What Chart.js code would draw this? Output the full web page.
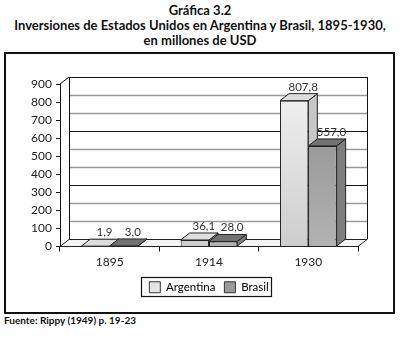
<!DOCTYPE html>
<html lang="es">
<head>
  <meta charset="UTF-8" />
  <title>Gráfica 3.2</title>
  <script src="https://cdn.jsdelivr.net/npm/chart.js@4.4.1/dist/chart.umd.min.js"></script>
  <style>
    body { margin: 0; background: #fff; font-family: 'Lato', sans-serif; }
    #wrap { position: relative; width: 400px; height: 338px; overflow: hidden; }
    #titulo {
      position: absolute; left: 0; top: 3px; width: 400px;
      text-align: center; font-weight: bold; font-size: 13px; line-height: 15px; color: #111;
    }
    #marco {
      position: absolute; left: 4px; top: 52px; width: 387px; height: 258px;
      border: 2px solid #111;
    }
    #fuente {
      position: absolute; left: 4px; top: 314px; font-weight: bold; font-size: 10px; color: #111;
    }
    canvas { position: absolute; left: 0; top: 0; }
  </style>
</head>
<body>
<div id="wrap">
  <div id="titulo">Gráfica 3.2<br>Inversiones de Estados Unidos en Argentina y Brasil, 1895-1930,<br>en millones de USD</div>
  <div id="marco"></div>
  <div id="fuente">Fuente: Rippy (1949) p. 19-23</div>
  <canvas id="grafica" width="400" height="338"></canvas>
</div>

<script>
  // datos de la gráfica
  const anios = ['1895', '1914', '1930'];
  const argentina = [1.9, 36.1, 807.8];
  const brasil = [3.0, 28.0, 557.0];
  const ejeY = [0, 100, 200, 300, 400, 500, 600, 700, 800, 900];

  // profundidad del efecto 3D
  const DX = 9, DY = 7;

  // colores de cada serie: frente (degradado), tapa, lado
  const estilos = [
    { top: '#dedede', lado: '#c6c6c6', g0: '#f2f2f2', g1: '#cdcdcd', leyenda: '#e4e4e4' },
    { top: '#727272', lado: '#7e7e7e', g0: '#8c8c8c', g1: '#b2b2b2', leyenda: '#9a9a9a' }
  ];

  function degradado(ctx, i) {
    const chart = ctx.chart;
    const a = chart.chartArea;
    if (!a) return estilos[i].g0;
    const g = chart.ctx.createLinearGradient(0, a.top, 0, a.bottom);
    g.addColorStop(0, estilos[i].g0);
    g.addColorStop(1, estilos[i].g1);
    return g;
  }

  function poly(c, pts, fill, stroke) {
    c.beginPath();
    c.moveTo(pts[0][0], pts[0][1]);
    for (let k = 1; k < pts.length; k++) c.lineTo(pts[k][0], pts[k][1]);
    c.closePath();
    if (fill) { c.fillStyle = fill; c.fill(); }
    if (stroke) { c.strokeStyle = stroke; c.lineWidth = 1; c.stroke(); }
  }

  // pared del fondo, piso y caras 3D de las barras
  const efecto3D = {
    id: 'efecto3D',
    beforeDatasetsDraw(chart) {
      const c = chart.ctx;
      const a = chart.chartArea;
      const y = chart.scales.y;
      c.save();
      // líneas de la pared del fondo
      ejeY.forEach(v => {
        if (v === 0) return;
        const py = Math.round(y.getPixelForValue(v)) - DY + 0.5;
        c.beginPath();
        c.moveTo(a.left + DX, py);
        c.lineTo(a.right + DX, py);
        c.strokeStyle = (v % 300 === 0) ? '#111' : '#9a9a9a';
        c.lineWidth = (v % 300 === 0) ? 1 : 1.6;
        c.stroke();
      });
      // bordes de la pared
      c.strokeStyle = '#111';
      c.lineWidth = 1;
      c.beginPath();
      c.moveTo(a.left + DX + 0.5, a.bottom - DY);
      c.lineTo(a.left + DX + 0.5, a.top - DY);
      c.moveTo(a.left, a.top);
      c.lineTo(a.left + DX, a.top - DY);
      c.moveTo(a.right + DX + 0.5, a.top - DY);
      c.lineTo(a.right + DX + 0.5, a.bottom - DY);
      c.stroke();
      // piso
      poly(c, [[a.left, a.bottom], [a.right, a.bottom], [a.right + DX, a.bottom - DY], [a.left + DX, a.bottom - DY]], '#f4f4f4', '#222');

      // tapas y lados de las barras
      chart.data.datasets.forEach((ds, i) => {
        const meta = chart.getDatasetMeta(i);
        meta.data.forEach(bar => {
          const x0 = bar.x - bar.width / 2, x1 = bar.x + bar.width / 2;
          const t = bar.y, b = bar.base;
          poly(c, [[x1, t], [x1 + DX, t - DY], [x1 + DX, b - DY], [x1, b]], estilos[i].lado, '#222');
          poly(c, [[x0, t], [x1, t], [x1 + DX, t - DY], [x0 + DX, t - DY]], estilos[i].top, '#222');
        });
      });
      c.restore();
    },
    afterDatasetsDraw(chart) {
      const c = chart.ctx;
      c.save();
      c.font = '11.5px Lato';
      c.fillStyle = '#333';
      c.textAlign = 'center';
      c.textBaseline = 'bottom';
      chart.data.datasets.forEach((ds, i) => {
        chart.getDatasetMeta(i).data.forEach((bar, j) => {
          const txt = ds.data[j].toFixed(1).replace('.', ',');
          c.fillText(txt, bar.x + 9, bar.y - DY - 1);
        });
      });
      c.restore();
    },
    afterDraw(chart) {
      // recuadro de la leyenda
      const lg = chart.legend;
      if (!lg || !lg.legendHitBoxes.length) return;
      const hb = lg.legendHitBoxes;
      const l = Math.min(...hb.map(h => h.left)) - 8;
      const r = Math.max(...hb.map(h => h.left + h.width)) + 3;
      const t = hb[0].top - 5;
      const c = chart.ctx;
      c.save();
      c.strokeStyle = '#111';
      c.lineWidth = 1.2;
      c.strokeRect(Math.round(l) + 0.5, Math.round(t) + 0.5, Math.round(r - l), 19);
      c.restore();
    }
  };

  new Chart(document.getElementById('grafica'), {
    type: 'bar',
    data: {
      labels: anios,
      datasets: [
        {
          label: 'Argentina',
          data: argentina,
          backgroundColor: ctx => degradado(ctx, 0),
          borderColor: '#222',
          borderWidth: 1,
          categoryPercentage: 0.57,
          barPercentage: 1
        },
        {
          label: 'Brasil',
          data: brasil,
          backgroundColor: ctx => degradado(ctx, 1),
          borderColor: '#222',
          borderWidth: 1,
          categoryPercentage: 0.57,
          barPercentage: 1
        }
      ]
    },
    options: {
      responsive: false,
      animation: false,
      layout: { padding: { left: 0, right: 42, top: 84, bottom: 35 } },
      scales: {
        x: {
          grid: { drawOnChartArea: false, color: '#111', tickLength: 5, offset: true },
          border: { color: '#111', width: 1 },
          ticks: { color: '#222', font: { family: 'Lato', size: 12 }, padding: 3 },
          afterFit(s) { s.height = 26; }
        },
        y: {
          min: 0,
          max: 900,
          grid: { drawOnChartArea: false, color: '#111', tickLength: 4 },
          border: { color: '#111', width: 1 },
          ticks: { stepSize: 100, color: '#222', font: { family: 'Lato', size: 12 }, padding: 4,
            callback: v => ejeY.includes(v) ? String(v) : '' },
          afterFit(s) { s.width = 60; }
        }
      },
      plugins: {
        legend: {
          position: 'bottom',
          fullSize: false,
          labels: {
            color: '#222',
            font: { family: 'Lato', size: 11.5 },
            boxWidth: 11,
            boxHeight: 11,
            padding: 9,
            generateLabels: chart => chart.data.datasets.map((ds, i) => ({
              text: ds.label,
              fillStyle: estilos[i].leyenda,
              strokeStyle: '#333',
              lineWidth: 1,
              datasetIndex: i,
              hidden: false
            }))
          }
        },
        tooltip: { enabled: false }
      }
    },
    plugins: [efecto3D]
  });
</script>
</body>
</html>
